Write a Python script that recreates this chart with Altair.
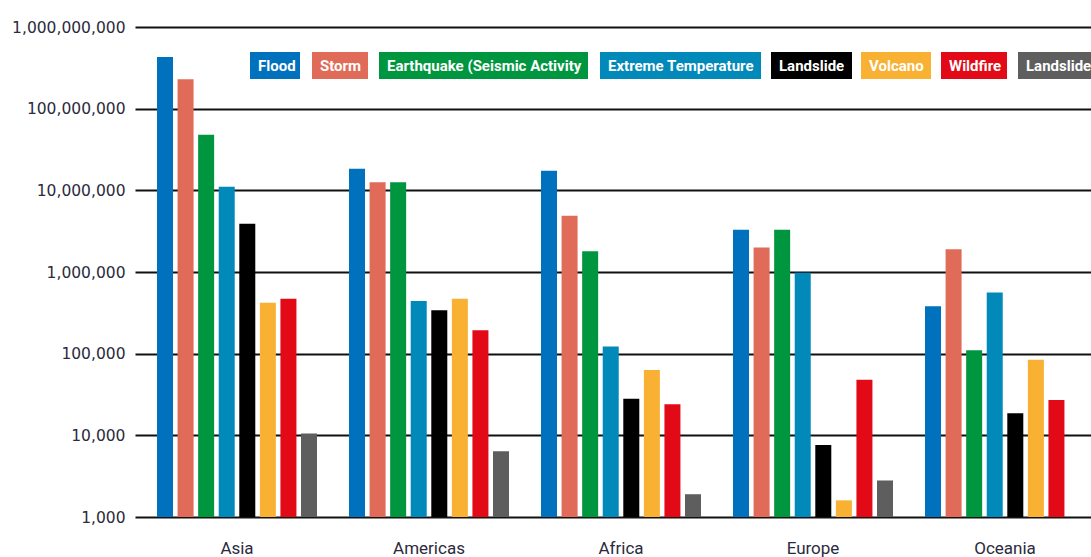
import altair as alt
import pandas as pd

# Regions along the x axis
regions = ["Asia", "Americas", "Africa", "Europe", "Oceania"]

# Hazard types, in legend / bar order
hazards = [
    "Flood",
    "Storm",
    "Earthquake (Seismic Activity",
    "Extreme Temperature",
    "Landslide",
    "Volcano",
    "Wildfire",
    "Landslide (Dry)",
]
hazard_colors = ["#0071BC", "#E06B58", "#00963F", "#0089B9", "#000000",
                 "#F8B133", "#E20A17", "#5E5E5E"]

# People affected per region (Asia, Americas, Africa, Europe, Oceania)
flood = [430_000_000, 18_400_000, 17_400_000, 3_300_000, 380_000]
storm = [230_000_000, 12_600_000, 4_900_000, 2_000_000, 1_900_000]
earthquake = [48_000_000, 12_600_000, 1_800_000, 3_300_000, 110_000]
extreme_temp = [11_100_000, 440_000, 122_000, 980_000, 560_000]
landslide = [3_900_000, 340_000, 28_000, 7_600, 18_700]
volcano = [420_000, 470_000, 63_000, 1_600, 84_000]
wildfire = [470_000, 194_000, 24_000, 48_000, 27_000]
landslide_dry = [10_500, 6_400, 1_900, 2_800, None]

series = [flood, storm, earthquake, extreme_temp, landslide,
          volcano, wildfire, landslide_dry]

rows = []
for hazard, values in zip(hazards, series):
    for region, v in zip(regions, values):
        if v is not None:
            rows.append({"region": region, "hazard": hazard, "value": v})
df = pd.DataFrame(rows)

# Plot-area size and outer padding (pixels)
W, H = 956, 490
PAD = {"left": 135, "top": 27, "right": 0, "bottom": 40}

LABEL_FONT = "Roboto, 'Liberation Sans', sans-serif"

# Legend boxes: left/right edges in plot coordinates
legend_left = [115, 177, 244, 465, 636, 726, 806, 883]
legend_right = [165, 233, 453, 626, 717, 796, 872, 990]
legend_df = pd.DataFrame({
    "hazard": hazards,
    "x0": legend_left,
    "x1": legend_right,
    "tx": [l + 8 for l in legend_left],
})

y_ticks = [1e3, 1e4, 1e5, 1e6, 1e7, 1e8, 1e9]

bars = alt.Chart(df).mark_bar().encode(
    x=alt.X(
        "region:N",
        sort=regions,
        scale=alt.Scale(paddingInner=0.1667, paddingOuter=0.0729, align=0.786),
        axis=alt.Axis(
            title=None, labelAngle=0, domain=False, ticks=False,
            labelPadding=23, labelBaseline="top",
            labelFont=LABEL_FONT, labelFontSize=17,
            labelColor="#2b2b3d",
        ),
    ),
    xOffset=alt.XOffset(
        "hazard:N", sort=hazards,
        scale=alt.Scale(paddingInner=0.222, paddingOuter=0),
    ),
    y=alt.Y(
        "value:Q",
        scale=alt.Scale(type="log", domain=[1e3, 1e9]),
        axis=alt.Axis(
            title=None, values=y_ticks, format=",", grid=True,
            gridColor="#111111", gridWidth=2, gridOpacity=1,
            domain=False, ticks=False, labelPadding=10,
            labelFont="DejaVu Sans", labelFontSize=15.5,
            labelColor="#2b2b3d",
        ),
    ),
    y2=alt.datum(1e3),
    color=alt.Color(
        "hazard:N",
        scale=alt.Scale(domain=hazards, range=hazard_colors),
        legend=None,
    ),
)

legend_boxes = alt.Chart(legend_df).mark_rect().encode(
    x=alt.X("x0:Q", scale=None, axis=None),
    x2="x1:Q",
    y=alt.value(25),
    y2=alt.value(52),
    color=alt.Color(
        "hazard:N",
        scale=alt.Scale(domain=hazards, range=hazard_colors),
        legend=None,
    ),
)

legend_text = alt.Chart(legend_df).mark_text(
    font=LABEL_FONT, fontSize=15, fontWeight="bold",
    color="white", align="left", baseline="middle",
).encode(
    x=alt.X("tx:Q", scale=None, axis=None),
    y=alt.value(39),
    text="hazard:N",
)

chart = alt.layer(bars, legend_boxes, legend_text).resolve_scale(
    x="independent", y="independent"
).properties(
    width=W,
    height=H,
    padding=PAD,
    autosize=alt.AutoSizeParams(type="none"),
    background="white",
).configure_view(stroke=None)

chart.save("out.html", embed_options={"renderer": "svg", "actions": False})
